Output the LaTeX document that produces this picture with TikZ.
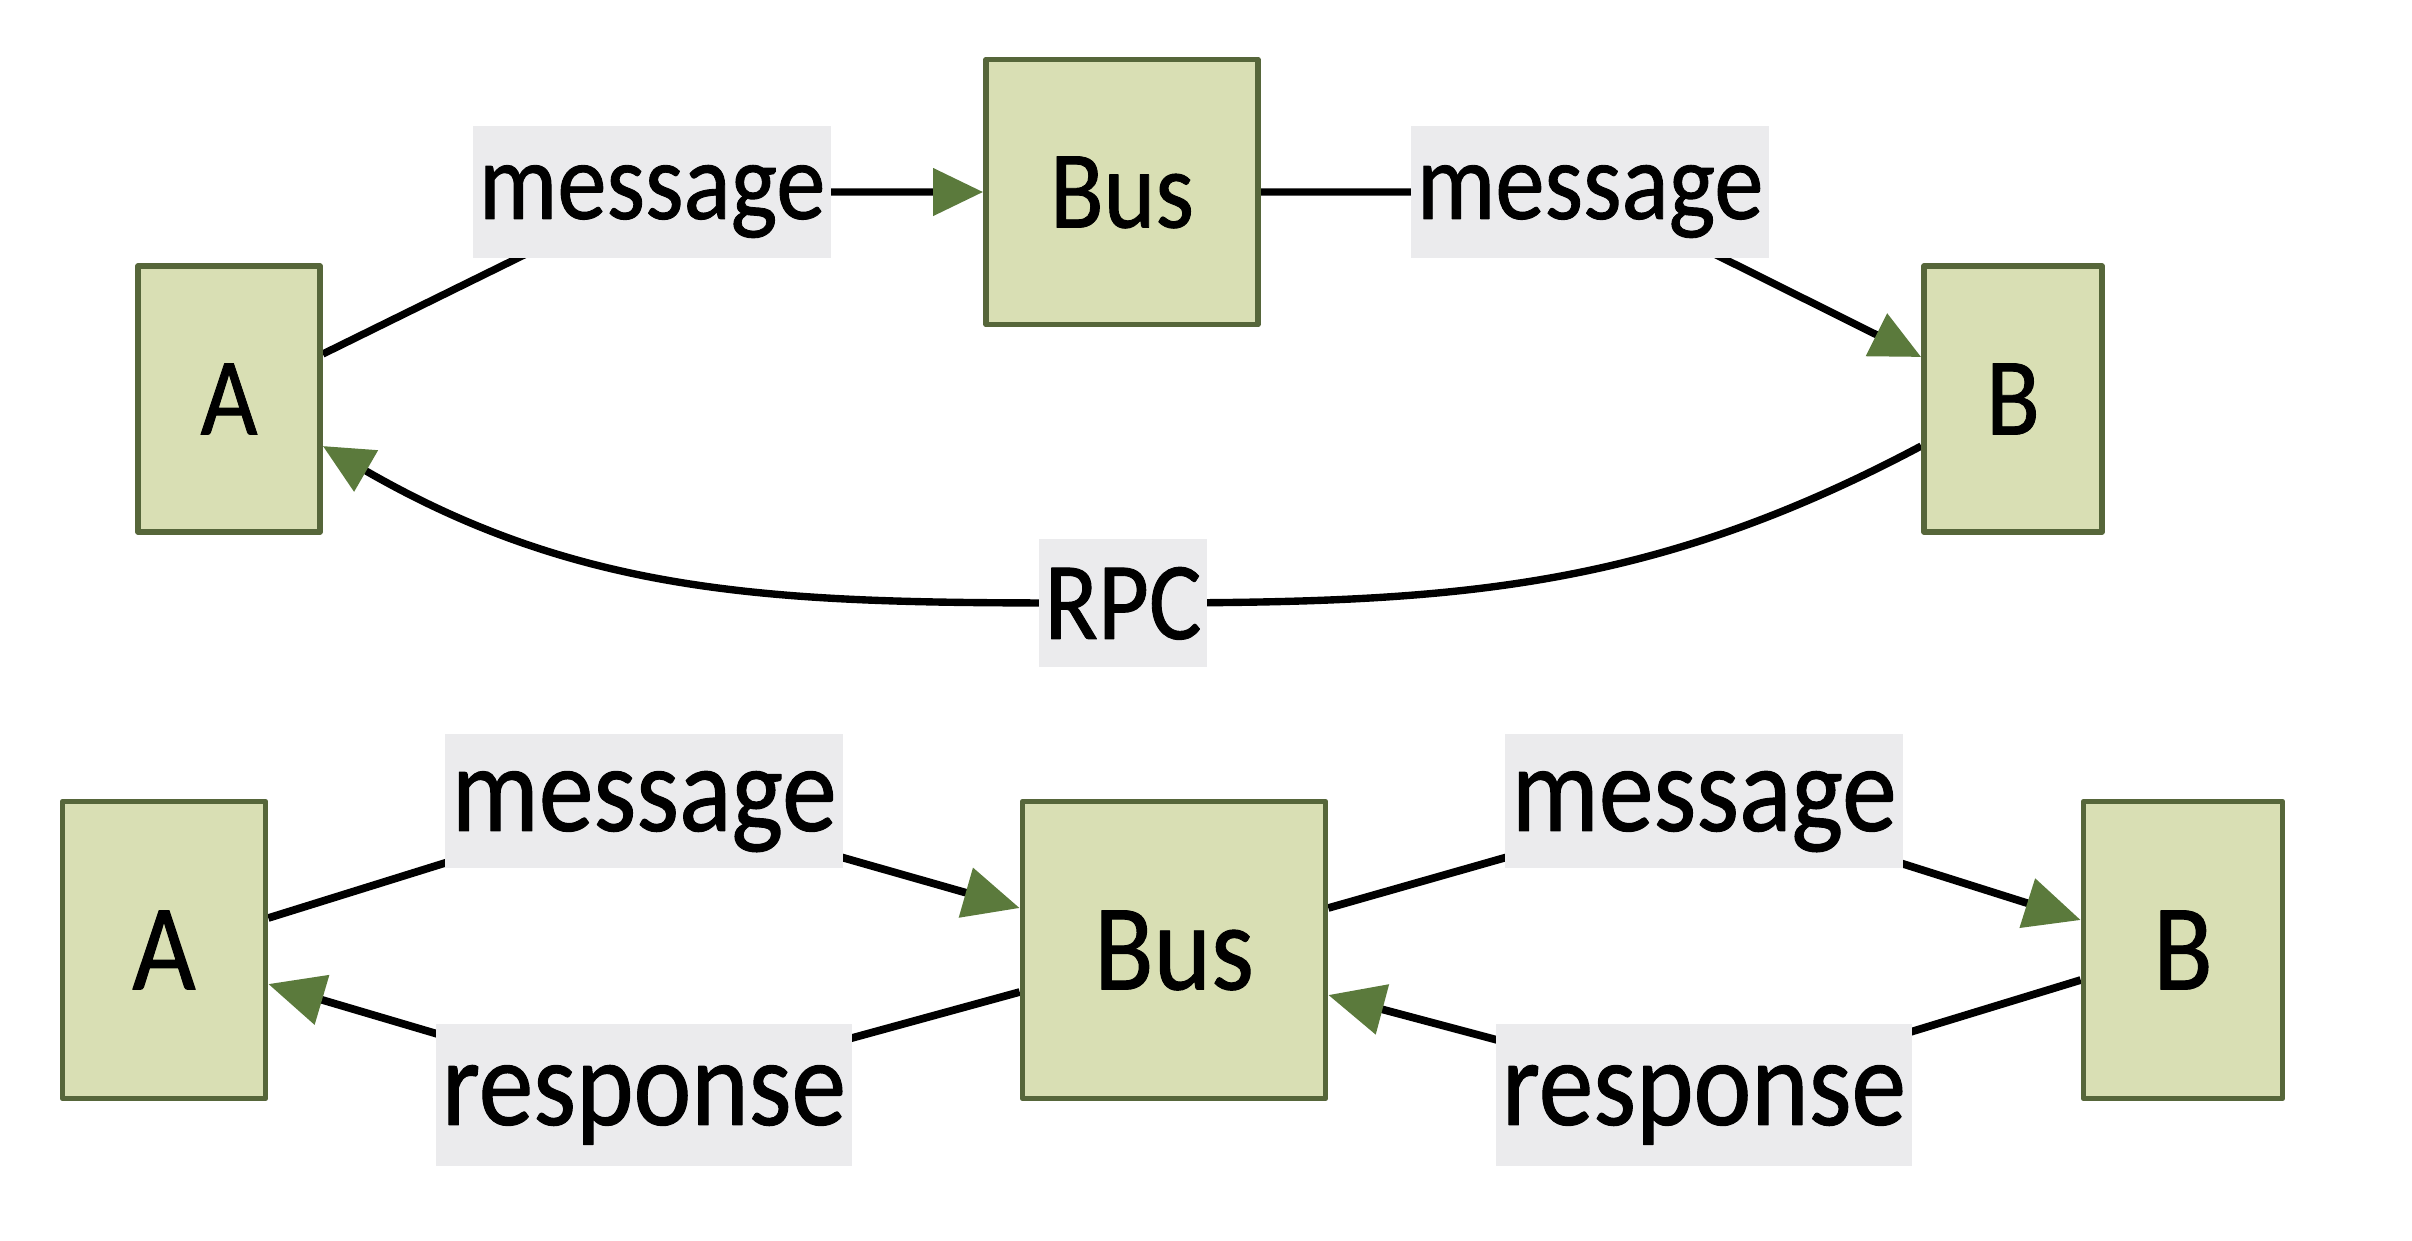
\documentclass[tikz,border=0pt]{standalone}
\usepackage{fontspec}
\setmainfont{Carlito}[FakeStretch=0.89, FakeBold=0.8]
\usepackage{tikz}
\usetikzlibrary{
    arrows.meta,
    backgrounds,
    calc
}
\definecolor{boxfill}  {HTML}{D9DFB4}
\definecolor{boxline}  {HTML}{56663A}
\definecolor{tipgreen} {HTML}{5B7A3C}
\definecolor{labelbg}  {HTML}{EBEBED}

\begin{document}
\begin{tikzpicture}[
    line cap=round, line join=round,
    %% --- semantic styles ---
    boxnode/.style   = {rectangle, draw=boxline, fill=boxfill, line width=1.6pt,
                        text depth=0pt, inner sep=0pt},
    msglabel/.style  = {rectangle, fill=labelbg, text depth=0pt,
                        inner xsep=0.6mm, minimum height=1.32cm},
    flow/.style      = {-{Triangle[length=5mm, width=4.6mm, color=tipgreen]},
                        draw=black, line width=2.1pt},
    bigflow/.style   = {-{Triangle[length=5.6mm, width=5mm, color=tipgreen]},
                        draw=black, line width=2.2pt},
    topfont/.style   = {font=\fontsize{31.5}{36}\selectfont},
    lowfont/.style   = {font=\fontsize{35}{40}\selectfont}
]
\useasboundingbox (0,0) rectangle (24.12,-12.40);

%% =====================================================
%% TOP — message over the bus, RPC straight back
%% =====================================================
\node[boxnode, topfont, minimum width=1.82cm, minimum height=2.66cm] (A1)   at ( 2.29,-3.99) {A};
\node[boxnode, topfont, minimum width=2.72cm, minimum height=2.65cm] (Bus1) at (11.22,-1.92) {Bus};
\node[boxnode, topfont, minimum width=1.78cm, minimum height=2.66cm] (B1)   at (20.13,-3.99) {B};

\node[msglabel, topfont] (msgA1) at ( 6.52,-1.92) {message};
\node[msglabel, topfont] (msgB1) at (15.90,-1.92) {message};
\node[msglabel, topfont, minimum height=1.28cm] (rpc) at (11.23,-6.03) {RPC};

\begin{scope}[on background layer]
    \draw[flow] ([yshift=4.5mm]A1.east) -- (msgA1.center) -- (Bus1.west);
    \draw[flow] (Bus1.east) -- (msgB1.center) -- ([yshift=4.2mm]B1.west);
    \draw[flow] ([yshift=-4.7mm]B1.west) to[out=208, in=0] (rpc.center)
        to[out=180, in=-30] ([yshift=-4.7mm]A1.east);
\end{scope}

%% =====================================================
%% BOTTOM — message and response both through the bus
%% =====================================================
\node[boxnode, lowfont, minimum width=2.03cm, minimum height=2.97cm] (A2)   at ( 1.64,-9.50) {A};
\node[boxnode, lowfont, minimum width=3.03cm, minimum height=2.97cm] (Bus2) at (11.74,-9.50) {Bus};
\node[boxnode, lowfont, minimum width=1.99cm, minimum height=2.97cm] (B2)   at (21.83,-9.50) {B};

\node[msglabel, lowfont, minimum height=1.34cm] (msgA2)  at ( 6.44, -8.01) {message};
\node[msglabel, lowfont, minimum height=1.42cm] (respA2) at ( 6.44,-10.95) {response};
\node[msglabel, lowfont, minimum height=1.34cm] (msgB2)  at (17.04, -8.01) {message};
\node[msglabel, lowfont, minimum height=1.42cm] (respB2) at (17.04,-10.95) {response};

\begin{scope}[on background layer]
    \draw[bigflow] ([yshift=3.2mm]A2.east) -- (msgA2.center) -- ([yshift=4.2mm]Bus2.west);
    \draw[bigflow] ([yshift=-4.2mm]Bus2.west) -- (respA2.center) -- ([yshift=-3.4mm]A2.east);
    \draw[bigflow] ([yshift=4.2mm]Bus2.east) -- (msgB2.center) -- ([yshift=3mm]B2.west);
    \draw[bigflow] ([yshift=-3mm]B2.west) -- (respB2.center) -- ([yshift=-4.5mm]Bus2.east);
\end{scope}

\end{tikzpicture}
\end{document}
